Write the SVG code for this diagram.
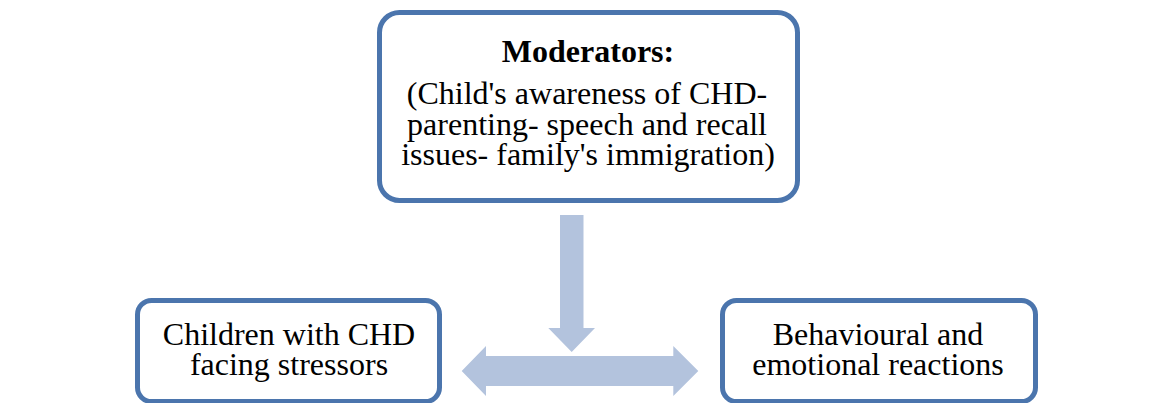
<svg xmlns="http://www.w3.org/2000/svg" width="1170" height="403" viewBox="0 0 1170 403">
  <style>
    .box { fill: #ffffff; stroke: #4B75AD; stroke-width: 5; }
    .txt { font-size: 32px; fill: #000000; text-anchor: middle; }
    .bold { font-weight: bold; }
    .arrow { fill: #B3C3DD; }
  </style>
  <rect width="1170" height="403" fill="#ffffff"/>

  <g id="moderators" font-family="'Liberation Serif', serif">
    <rect class="box" x="379.5" y="12.5" width="418" height="188" rx="20"/>
    <text class="txt bold" x="588" y="62" font-size="32.5">Moderators:</text>
    <text class="txt" x="587" y="104">(Child's awareness of CHD-</text>
    <text class="txt" x="587" y="135">parenting- speech and recall</text>
    <text class="txt" x="588" y="165">issues- family's immigration)</text>
  </g>

  <g id="children" font-family="'Liberation Serif', serif">
    <rect class="box" x="137.5" y="300.5" width="302" height="101" rx="14"/>
    <text class="txt" x="289" y="345">Children with CHD</text>
    <text class="txt" x="289" y="375">facing stressors</text>
  </g>

  <g id="reactions" font-family="'Liberation Serif', serif">
    <rect class="box" x="722.5" y="300.5" width="313" height="101" rx="14"/>
    <text class="txt" x="878" y="345">Behavioural and</text>
    <text class="txt" x="878" y="375">emotional reactions</text>
  </g>

  <g id="connectors">
    <!-- block arrow from the moderators down onto the link -->
    <polygon class="arrow" points="560,215 583.5,215 583.5,328 595,328 571.7,352 548.3,328 560,328"/>
    <!-- two-headed block arrow between the lower boxes -->
    <polygon class="arrow" points="461.7,371 486,346 486,356 673.3,356 673.3,346 698.3,371 673.3,396 673.3,386 486,386 486,396"/>
  </g>
</svg>
